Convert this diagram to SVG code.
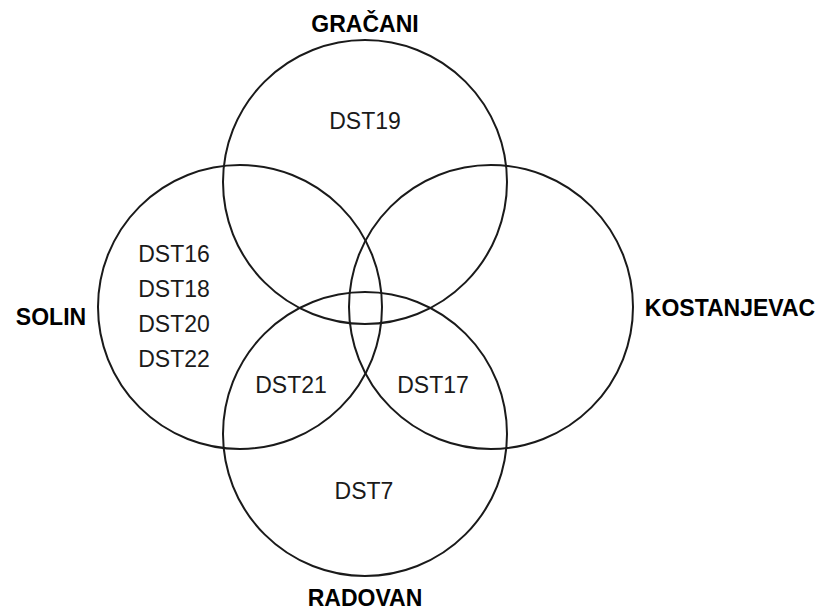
<svg xmlns="http://www.w3.org/2000/svg" width="822" height="611" viewBox="0 0 822 611">
<style>
.c{fill:none;stroke:#1a1a1a;stroke-width:2}
.t{font-family:"Liberation Sans",Arial,sans-serif;font-size:23px;fill:#1a1a1a;text-anchor:middle}
.b{font-family:"Liberation Sans",Arial,sans-serif;font-size:23px;font-weight:bold;fill:#000;text-anchor:middle}
</style>
<rect width="822" height="611" fill="#fff"/>
<g id="gracani"><circle class="c" cx="365" cy="182" r="142"/><text class="b" x="365" y="32">GRAČANI</text></g>
<g id="solin"><circle class="c" cx="240" cy="307" r="142"/><text class="b" x="51" y="325">SOLIN</text></g>
<g id="kostanjevac"><circle class="c" cx="491" cy="307" r="142"/><text class="b" x="730" y="316">KOSTANJEVAC</text></g>
<g id="radovan"><circle class="c" cx="365" cy="434" r="142"/><text class="b" x="365" y="606">RADOVAN</text></g>
<g id="labels">
<text class="t" x="365" y="129">DST19</text>
<text class="t" x="174" y="262">DST16</text>
<text class="t" x="174" y="297">DST18</text>
<text class="t" x="174" y="332">DST20</text>
<text class="t" x="174" y="367">DST22</text>
<text class="t" x="291" y="393">DST21</text>
<text class="t" x="433" y="393">DST17</text>
<text class="t" x="364" y="499">DST7</text>
</g>
<g id="connectors"/>
</svg>
